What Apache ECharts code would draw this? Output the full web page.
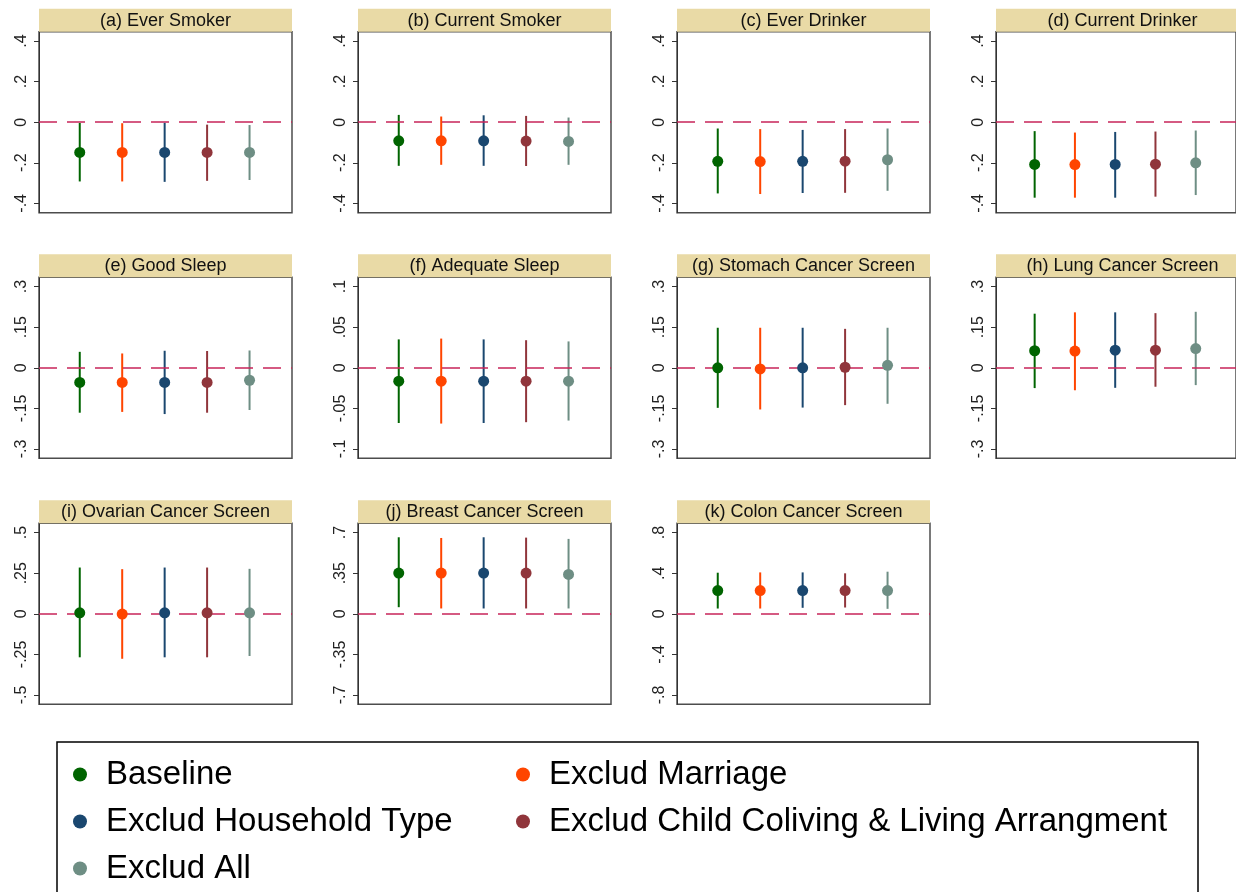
<!DOCTYPE html>
<html><head><meta charset="utf-8">
<script src="https://cdn.jsdelivr.net/npm/echarts@6/dist/echarts.min.js"></script>
<style>html,body{margin:0;padding:0;background:#fff}#c{width:1236px;height:892px}</style>
</head><body><div id="c"></div>
<script>
// ---------- DATA ----------
const groups = ['Baseline','Exclud Marriage','Exclud Household Type','Exclud Child Coliving & Living Arrangment','Exclud All'];
const titles = ['(a) Ever Smoker','(b) Current Smoker','(c) Ever Drinker','(d) Current Drinker',
  '(e) Good Sleep','(f) Adequate Sleep','(g) Stomach Cancer Screen','(h) Lung Cancer Screen',
  '(i) Ovarian Cancer Screen','(j) Breast Cancer Screen','(k) Colon Cancer Screen'];

const a_est = [-0.149,-0.149,-0.149,-0.149,-0.149];
const a_lo  = [-0.292,-0.292,-0.294,-0.289,-0.285];
const a_hi  = [-0.004,-0.005,-0.003,-0.012,-0.014];

const b_est = [-0.092,-0.092,-0.092,-0.093,-0.095];
const b_lo  = [-0.215,-0.210,-0.215,-0.216,-0.210];
const b_hi  = [0.036,0.028,0.034,0.031,0.023];

const c_est = [-0.193,-0.194,-0.193,-0.192,-0.185];
const c_lo  = [-0.351,-0.354,-0.349,-0.348,-0.338];
const c_hi  = [-0.031,-0.034,-0.038,-0.034,-0.031];

const d_est = [-0.208,-0.209,-0.208,-0.207,-0.200];
const d_lo  = [-0.372,-0.372,-0.372,-0.367,-0.359];
const d_hi  = [-0.044,-0.051,-0.048,-0.046,-0.041];

const e_est = [-0.054,-0.054,-0.054,-0.054,-0.046];
const e_lo  = [-0.166,-0.163,-0.171,-0.166,-0.156];
const e_hi  = [0.059,0.053,0.063,0.062,0.064];

const f_est = [-0.0165,-0.0165,-0.0165,-0.0165,-0.0165];
const f_lo  = [-0.068,-0.0687,-0.068,-0.067,-0.065];
const f_hi  = [0.035,0.036,0.035,0.034,0.0325];

const g_est = [0.000,-0.004,0.000,0.002,0.009];
const g_lo  = [-0.148,-0.154,-0.147,-0.138,-0.133];
const g_hi  = [0.148,0.148,0.148,0.144,0.148];

const h_est = [0.063,0.062,0.065,0.065,0.071];
const h_lo  = [-0.075,-0.083,-0.074,-0.070,-0.064];
const h_hi  = [0.200,0.205,0.205,0.202,0.207];

const i_est = [0.006,-0.002,0.006,0.006,0.006];
const i_lo  = [-0.268,-0.277,-0.268,-0.268,-0.260];
const i_hi  = [0.285,0.275,0.285,0.285,0.277];

const j_est = [0.351,0.351,0.351,0.351,0.340];
const j_lo  = [0.057,0.046,0.046,0.046,0.046];
const j_hi  = [0.660,0.654,0.660,0.657,0.646];

const k_est = [0.229,0.229,0.229,0.229,0.229];
const k_lo  = [0.052,0.052,0.059,0.062,0.049];
const k_hi  = [0.405,0.408,0.408,0.399,0.415];

const ticks04 = [-0.4,-0.2,0,0.2,0.4];   const labels04 = ['-.4','-.2','0','.2','.4'];
const ticks03 = [-0.3,-0.15,0,0.15,0.3]; const labels03 = ['-.3','-.15','0','.15','.3'];
const ticks01 = [-0.1,-0.05,0,0.05,0.1]; const labels01 = ['-.1','-.05','0','.05','.1'];
const ticks05 = [-0.5,-0.25,0,0.25,0.5]; const labels05 = ['-.5','-.25','0','.25','.5'];
const ticks07 = [-0.7,-0.35,0,0.35,0.7]; const labels07 = ['-.7','-.35','0','.35','.7'];
const ticks08 = [-0.8,-0.4,0,0.4,0.8];   const labels08 = ['-.8','-.4','0','.4','.8'];

// ---------- STYLE / LAYOUT ----------
const colors = ['#006400','#FF4500','#1A476F','#90353B','#6E8E84'];
const FONT = '"Liberation Sans", Arial, Helvetica, sans-serif';
const colLeft = [39, 358, 677, 996];
const rowTop = [31.7, 277.3, 523.3];
const W = 253, H = 181, TH = 23;

const panels = [
  [a_est,a_lo,a_hi,ticks04,labels04],[b_est,b_lo,b_hi,ticks04,labels04],
  [c_est,c_lo,c_hi,ticks04,labels04],[d_est,d_lo,d_hi,ticks04,labels04],
  [e_est,e_lo,e_hi,ticks03,labels03],[f_est,f_lo,f_hi,ticks01,labels01],
  [g_est,g_lo,g_hi,ticks03,labels03],[h_est,h_lo,h_hi,ticks03,labels03],
  [i_est,i_lo,i_hi,ticks05,labels05],[j_est,j_lo,j_hi,ticks07,labels07],
  [k_est,k_lo,k_hi,ticks08,labels08]
];

const grid = [], xAxis = [], yAxis = [], series = [], graphic = [];
panels.forEach((p, idx) => {
  const [est, lo, hi, ticks, labels] = p;
  const row = Math.floor(idx / 4), col = idx % 4;
  const left = colLeft[col], top = rowTop[row];
  const tmax = ticks[ticks.length - 1];
  grid.push({left, top, width: W, height: H, show: true, borderColor: '#4d4d4d', borderWidth: 1.5, backgroundColor: '#fff', containLabel: false});
  xAxis.push({gridIndex: idx, type: 'value', min: 0.04, max: 6, show: false});
  yAxis.push({
    gridIndex: idx, type: 'value', min: -1.115 * tmax, max: 1.115 * tmax,
    axisLine: {show: true, lineStyle: {color: '#333', width: 1}},
    axisTick: {show: true, length: 5, customValues: ticks, lineStyle: {color: '#333', width: 1}},
    axisLabel: {
      customValues: ticks, rotate: 90, margin: 9, fontSize: 16, color: '#222', fontFamily: FONT,
      formatter: v => { const k = ticks.findIndex(t => Math.abs(t - v) < 1e-9); return k >= 0 ? labels[k] : ''; }
    },
    splitLine: {show: false}
  });
  series.push({
    type: 'custom', xAxisIndex: idx, yAxisIndex: idx, silent: true, z: 2,
    data: groups.map((g, k) => [k + 1, lo[k], hi[k], k]),
    encode: {x: 0, y: [1, 2]},
    renderItem: (params, api) => {
      const p1 = api.coord([api.value(0), api.value(1)]);
      const p2 = api.coord([api.value(0), api.value(2)]);
      return {type: 'line', shape: {x1: p1[0], y1: p1[1], x2: p2[0], y2: p2[1]},
        style: {stroke: colors[api.value(3)], lineWidth: 2}};
    },
    markLine: {
      silent: true, symbol: ['none', 'none'], label: {show: false}, animation: false,
      lineStyle: {color: '#C8245A', width: 1.6, type: [18, 10]},
      data: [{yAxis: 0}]
    }
  });
  groups.forEach((g, k) => {
    series.push({
      type: 'scatter', name: g, xAxisIndex: idx, yAxisIndex: idx, silent: true, z: 10,
      symbol: 'circle', symbolSize: 11, itemStyle: {color: colors[k], opacity: 1},
      data: [[k + 1, est[k]]]
    });
  });
  graphic.push({type: 'rect', z: 1, shape: {x: left, y: top - TH, width: W, height: TH}, style: {fill: '#E9DAA6'}});
  graphic.push({type: 'text', z: 2, x: left + W / 2, y: top - TH / 2 + 0.5,
    style: {text: titles[idx], align: 'center', verticalAlign: 'middle', fontSize: 18, fontFamily: FONT, fill: '#111'}});
});
graphic.push({type: 'rect', z: 0, shape: {x: 57, y: 742, width: 1141, height: 200}, style: {fill: '#fff', stroke: '#000', lineWidth: 1.5}});

const legendCommon = {
  type: 'plain', orient: 'vertical', top: 758, height: 300, padding: 0,
  icon: 'circle', itemWidth: 14, itemHeight: 14, itemGap: 14,
  selectedMode: false, z: 10,
  textStyle: {fontSize: 33, color: '#000', fontFamily: FONT, lineHeight: 30, padding: [0, 0, 0, 14]}
};

const chart = echarts.init(document.getElementById('c'), null, {renderer: 'canvas'});
chart.setOption({
  animation: false,
  backgroundColor: '#fff',
  grid, xAxis, yAxis, series, graphic,
  legend: [
    Object.assign({}, legendCommon, {left: 73, data: [groups[0], groups[2], groups[4]]}),
    Object.assign({}, legendCommon, {left: 516, data: [groups[1], groups[3]]})
  ]
});
</script>
</body></html>
